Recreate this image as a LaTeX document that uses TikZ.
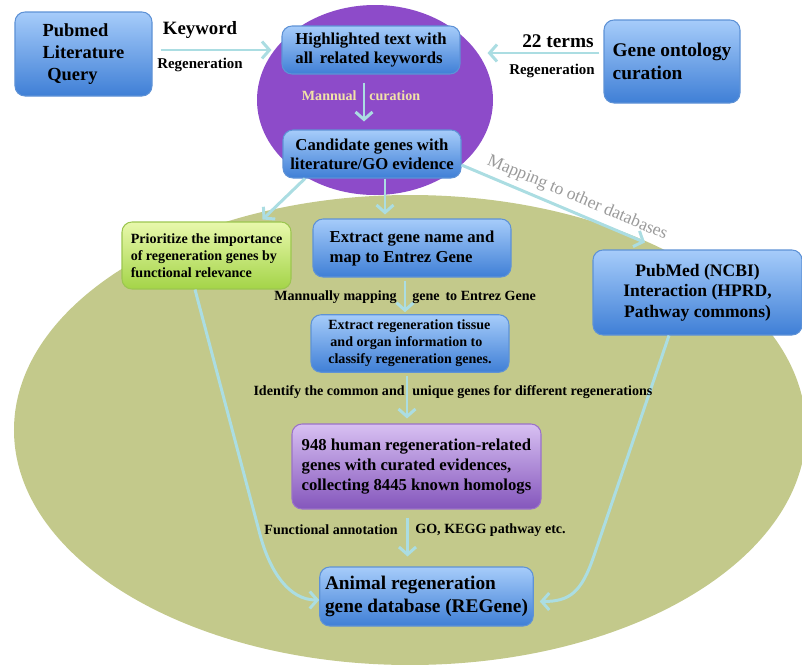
\documentclass[tikz,border=0pt]{standalone}
\usepackage{fontspec}
\setmainfont{Liberation Serif}
\usepackage{xcolor}
\usetikzlibrary{shapes,arrows.meta,positioning,calc}

\definecolor{boxtop}{HTML}{A6CCFA}
\definecolor{boxbot}{HTML}{3F7FD6}
\definecolor{boxline}{HTML}{5E92D6}
\definecolor{greentop}{HTML}{E8F8AC}
\definecolor{greenbot}{HTML}{A4D448}
\definecolor{greenline}{HTML}{9CC650}
\definecolor{lilactop}{HTML}{D8C0F2}
\definecolor{lilacbot}{HTML}{8456BC}
\definecolor{lilacline}{HTML}{9B72C9}
\definecolor{purplefield}{HTML}{8D4BC9}
\definecolor{olivefield}{HTML}{C3C98B}
\definecolor{flowcol}{HTML}{ABDDE2}
\definecolor{curecol}{HTML}{F2E3A6}
\definecolor{mapcol}{HTML}{9A9A9A}

\tikzset{
  txt/.style 2 args={font=\fontsize{#1}{#2}\selectfont\bfseries},
  card/.style={rounded corners=0.2cm, inner sep=3pt, line width=0.6pt},
  bluebox/.style={card, draw=boxline, top color=boxtop, bottom color=boxbot},
  greenbox/.style={card, draw=greenline, top color=greentop, bottom color=greenbot},
  lilacbox/.style={card, draw=lilacline, top color=lilactop, bottom color=lilacbot},
  flow/.style={draw=flowcol, line width=1.7pt, -{Straight Barb[length=0.15cm,width=0.34cm]}},
  lbl/.style={txt={8}{9.6}, inner sep=0pt},
}

\begin{document}
\begin{tikzpicture}
    \useasboundingbox (0,0) rectangle (16.04,-13.3);

    % Background fields
    \fill[olivefield] (8.2,-8.6) ellipse (7.92cm and 4.7cm);
    \fill[purplefield] (7.5,-2.0) ellipse (2.36cm and 1.9cm);

    % Top row
    \node[bluebox, txt={10.5}{12.5}, align=left, minimum width=2.74cm, minimum height=1.68cm]
        (pubmed) at (1.67,-1.08) {Pubmed\\Literature\\\hspace{0.25em}Query};
    \node[bluebox, txt={9.5}{10.8}, align=left, minimum width=3.56cm, minimum height=0.96cm]
        (highlight) at (7.42,-1.0) {Highlighted text with\\all\, related keywords};
    \node[bluebox, txt={11}{13.5}, align=left, minimum width=2.72cm, minimum height=1.66cm]
        (geneont) at (13.44,-1.23) {Gene ontology\\curation};
    \node[bluebox, txt={9.5}{11}, align=center, minimum width=3.56cm, minimum height=0.96cm]
        (candidate) at (7.44,-3.08) {Candidate genes with\\literature/GO evidence};

    % Middle row
    \node[greenbox, txt={8}{9.7}, align=left, minimum width=3.38cm, minimum height=1.34cm]
        (prior) at (4.13,-5.11) {Prioritize the importance\\of regeneration genes by\\functional relevance};
    \node[bluebox, txt={9.5}{11.4}, align=left, minimum width=3.96cm, minimum height=1.16cm]
        (extgene) at (8.24,-4.96) {Extract gene name and\\map to Entrez Gene};
    \node[bluebox, txt={10}{11.7}, align=center, minimum width=4.18cm, minimum height=1.7cm]
        (ncbi) at (13.95,-5.85) {PubMed (NCBI)\\Interaction (HPRD,\\Pathway commons)};
    \node[bluebox, txt={8}{9.7}, align=left, minimum width=3.96cm, minimum height=1.14cm]
        (tissue) at (8.2,-6.87) {Extract regeneration tissue\\\hspace{0.15em}and organ information to\\classify regeneration genes.};

    % Bottom row
    \node[lilacbox, txt={9.5}{11.6}, align=left, minimum width=4.98cm, minimum height=1.7cm]
        (human) at (8.33,-9.33) {948 human regeneration-related\\genes with curated evidences,\\collecting 8445 known homologs};
    \node[bluebox, txt={11}{13.5}, align=left, minimum width=4.26cm, minimum height=1.18cm]
        (regene) at (8.53,-11.93) {Animal regeneration\\gene database (REGene)};

    % Connectors
    \draw[flow, shorten <=0.16cm, shorten >=0.2cm] (pubmed.east |- highlight.west) -- (highlight.west);
    \draw[flow, shorten <=0.08cm, shorten >=0.54cm] ([yshift=0.17cm]geneont.west) -- ([yshift=-0.06cm]highlight.east);
    \draw[flow, shorten <=0.16cm, shorten >=0.16cm] ([xshift=-0.14cm]highlight.south) -- ([xshift=-0.14cm]highlight.south |- candidate.north);
    \draw[flow] ([xshift=-1.34cm]candidate.south) -- ([xshift=1.12cm,yshift=0.04cm]prior.north);
    \draw[flow, shorten >=0.08cm] ([xshift=0.26cm]candidate.south) -- ([xshift=0.26cm]candidate.south |- extgene.north);
    \draw[flow] ([yshift=-0.22cm]candidate.east) -- ([xshift=-1.05cm,yshift=0.14cm]ncbi.north)
        node[pos=0.6, above=3pt, sloped, font=\fontsize{10}{12}\selectfont, text=mapcol, inner sep=0pt] {Mapping to other databases};
    \draw[flow, shorten <=0.06cm, shorten >=0.04cm] ([xshift=-0.14cm]extgene.south) -- ([xshift=-0.14cm]extgene.south |- tissue.north);
    \draw[flow, shorten <=0.06cm, shorten >=0.1cm] ([xshift=-0.06cm]tissue.south) -- ([xshift=-0.06cm]tissue.south |- human.north);
    \draw[flow, shorten <=0.16cm, shorten >=0.2cm] ([xshift=-0.18cm]human.south) -- ([xshift=-0.18cm]human.south |- regene.north);
    \draw[flow] ([xshift=-0.23cm]prior.south) -- ++(1.3,-4.9)
        .. controls +(0.2,-0.75) and +(-0.6,0) .. ([yshift=-0.07cm]regene.west);
    \draw[flow] ([xshift=-0.57cm]ncbi.south) -- ++(-1.5,-4.4)
        .. controls +(-0.25,-0.74) and +(0.6,0) .. ([xshift=0.12cm,yshift=-0.1cm]regene.east);

    % Connector labels
    \node[txt={10.7}{12}] (keyword) at (4.0,-0.6) {Keyword};
    \node[txt={8.5}{10}] (regenA) at (4.0,-1.3) {Regeneration};
    \node[txt={11}{12}] (terms) at (11.16,-0.82) {22 terms};
    \node[txt={8.5}{10}] (regenB) at (11.04,-1.42) {Regeneration};
    \node[lbl, text=curecol, anchor=east] (curA) at (7.14,-1.92) {Mannual};
    \node[lbl, text=curecol, anchor=west] (curB) at (7.38,-1.92) {curation};
    \node[lbl, anchor=east] (mapA) at (7.94,-5.94) {Mannually mapping};
    \node[lbl, anchor=west] (mapB) at (8.24,-5.94) {gene\, to Entrez Gene};
    \node[lbl, anchor=east] (idA) at (8.1,-7.84) {Identify the common and};
    \node[lbl, anchor=west] (idB) at (8.24,-7.84) {unique genes for different regenerations};
    \node[lbl, anchor=east] (funA) at (7.96,-10.6) {Functional annotation};
    \node[lbl, anchor=west] (funB) at (8.3,-10.6) {GO, KEGG pathway etc.};
\end{tikzpicture}
\end{document}
